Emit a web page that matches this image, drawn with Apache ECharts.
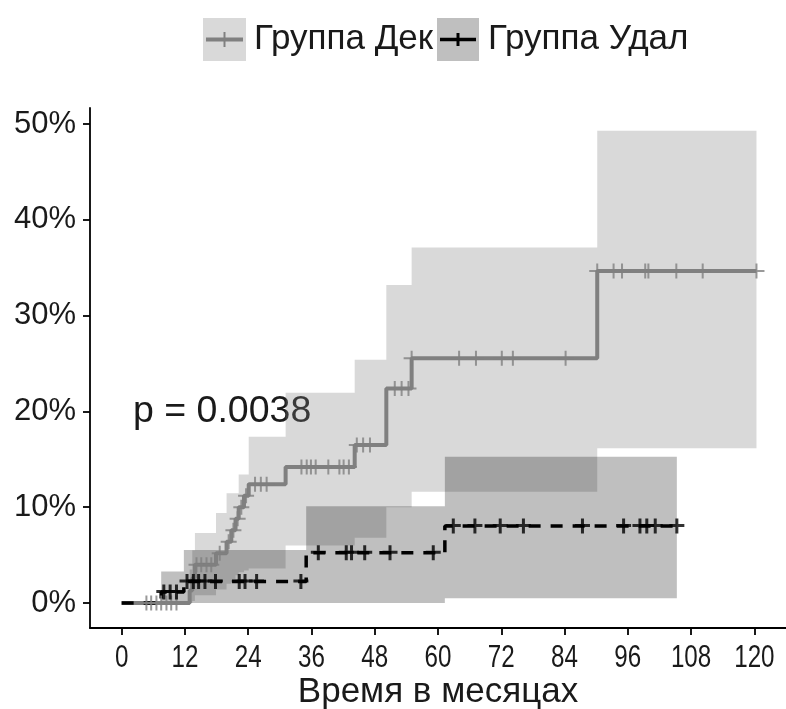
<!DOCTYPE html>
<html>
<head>
<meta charset="utf-8">
<script src="https://cdn.jsdelivr.net/npm/echarts@6/dist/echarts.min.js"></script>
<style>
  html, body { margin: 0; padding: 0; background: #ffffff; }
  #chart { width: 786px; height: 709px; }
</style>
</head>
<body>
<div id="chart"></div>
<script>
// ---- Group "Дек": cumulative incidence step function with confidence band ----
const dekTimes  = [0, 12.9, 13.4, 13.9, 17.9, 19.9, 20.8, 21.6, 22.2, 23.2, 24.1, 31.1, 44.2, 50.2, 55.0, 90.2];
const dekLevels = [0, 0.013, 0.026, 0.040, 0.052, 0.064, 0.076, 0.088, 0.100, 0.112, 0.124, 0.142, 0.165, 0.224, 0.2555, 0.3466];
const dekLower  = [0, 0, 0.002, 0.008, 0.014, 0.020, 0.025, 0.029, 0.032, 0.034, 0.036, 0.060, 0.068, 0.100, 0.116, 0.1615];
const dekUpper  = [0, 0.035, 0.055, 0.073, 0.094, 0.1145, 0.1145, 0.1145, 0.134, 0.134, 0.1736, 0.2195, 0.254, 0.332, 0.371, 0.493];
const dekEnd = 120.4;
const dekCensored = [4.7, 5.6, 6.6, 7.5, 8.5, 9.4, 10.4, 14.2, 15.1, 16.1, 17.0, 18.6, 20.3, 21.2, 22.0, 22.7, 23.6,
  25.3, 26.4, 27.5, 34.1, 35.1, 35.9, 36.8, 39.2, 41.3, 42.1, 43.1, 44.6, 45.8, 47.1, 51.8, 53.1, 54.4,
  55.0, 64.0, 67.2, 72.1, 74.2, 84.2, 90.2, 93.3, 94.9, 99.3, 99.9, 105.2, 110.2, 120.4];

// ---- Group "Удал" ----
const udalTimes  = [0, 7.5, 11.8, 35.0, 61.3];
const udalLevels = [0, 0.0115, 0.0225, 0.0525, 0.0804];
const udalLower  = [0, 0, 0, 0, 0.0049];
const udalUpper  = [0, 0.033, 0.0553, 0.101, 0.1527];
const udalEnd = 105.3;
const udalCensored = [8.0, 9.2, 10.4, 12.4, 13.6, 14.6, 15.8, 17.8, 22.3, 23.4, 25.6, 34.0,
  37.3, 42.6, 43.6, 46.1, 50.9, 59.1, 62.9, 67.0, 71.8, 76.2, 87.4, 95.2, 98.3, 99.6, 101.2, 105.3];

// ---- Axis ticks ----
const xTicks = [0, 12, 24, 36, 48, 60, 72, 84, 96, 108, 120];
const yTicks = [0, 0.1, 0.2, 0.3, 0.4, 0.5];

const seriesNames = ['Группа Дек', 'Группа Удал'];
const pText = 'p = 0.0038';
const xTitle = 'Время в месяцах';

const FONT = "'Liberation Sans', Arial, sans-serif";
const TEXT = '#1a1a1a';

// value of a right-continuous step function at time t
function stepAt(times, levels, t) {
  let v = levels[0];
  for (let i = 0; i < times.length; i++) if (times[i] <= t) v = levels[i];
  return v;
}

function stepLine(times, levels, end) {
  const pts = times.map((t, i) => [t, levels[i]]);
  pts.push([end, levels[levels.length - 1]]);
  return pts;
}

// confidence band as a single stepped polygon, projected through the grid's scales
function bandSeries(times, lower, upper, end, fill) {
  return {
    type: 'custom',
    coordinateSystem: 'cartesian2d',
    silent: true,
    z: 1,
    data: [[times[1], upper[1]]],
    renderItem: function (params, api) {
      const top = [], bottom = [];
      for (let i = 1; i < times.length; i++) {
        const t1 = i < times.length - 1 ? times[i + 1] : end;
        top.push(api.coord([times[i], upper[i]]), api.coord([t1, upper[i]]));
        bottom.push(api.coord([times[i], lower[i]]), api.coord([t1, lower[i]]));
      }
      return {
        type: 'polygon',
        shape: { points: top.concat(bottom.reverse()) },
        style: { fill: fill, stroke: null }
      };
    }
  };
}

const plusThin  = 'path://M0,6.5H16V8.5H0Z M7,0H9V15H7Z';
const plusThick = 'path://M0,5.5H15V8.5H0Z M6,0H9V15H6Z';

const chart = echarts.init(document.getElementById('chart'), null, { renderer: 'canvas' });

const staticGraphics = [
  // legend keys
  { id: 'k1', type: 'rect', shape: { x: 203, y: 18, width: 43, height: 43 }, style: { fill: '#d9d9d9' } },
  { id: 'k1l', type: 'line', shape: { x1: 206, y1: 39.5, x2: 243, y2: 39.5 }, style: { stroke: '#808080', lineWidth: 4 } },
  { id: 'k1p', type: 'line', shape: { x1: 224.5, y1: 32, x2: 224.5, y2: 47 }, style: { stroke: '#808080', lineWidth: 2 } },
  { id: 'k1t', type: 'text', left: 254, top: 22, style: { text: seriesNames[0], font: '35px ' + FONT, fill: TEXT } },
  { id: 'k2', type: 'rect', shape: { x: 437, y: 18, width: 42, height: 43 }, style: { fill: '#bfbfbf' } },
  { id: 'k2l', type: 'line', shape: { x1: 440, y1: 39.5, x2: 476, y2: 39.5 }, style: { stroke: '#000', lineWidth: 3.5 } },
  { id: 'k2p', type: 'line', shape: { x1: 458, y1: 33, x2: 458, y2: 46 }, style: { stroke: '#000', lineWidth: 3 } },
  { id: 'k2t', type: 'text', left: 488, top: 22, style: { text: seriesNames[1], font: '35px ' + FONT, fill: TEXT } },
  // log-rank p-value
  { id: 'pv', type: 'text', left: 133, top: 393, style: { text: pText, font: '37.5px ' + FONT, fill: TEXT } }
];

chart.setOption({
  animation: false,
  backgroundColor: '#ffffff',
  grid: { left: 90, right: 0, top: 108, bottom: 81, outerBoundsMode: 'none', containLabel: false },
  xAxis: {
    type: 'value',
    min: -6, max: 126,
    splitLine: { show: false },
    axisLine: { show: true, onZero: false, lineStyle: { color: '#000', width: 1.8 } },
    axisTick: { show: true, length: 7, lineStyle: { color: '#000', width: 1.8 }, customValues: xTicks },
    axisLabel: { show: false },
    name: xTitle, nameLocation: 'middle', nameGap: 47,
    nameTextStyle: { fontFamily: FONT, fontSize: 35, color: TEXT }
  },
  yAxis: {
    type: 'value',
    min: -0.0261, max: 0.5167,
    splitLine: { show: false },
    axisLine: { show: true, onZero: false, lineStyle: { color: '#000', width: 1.8 } },
    axisTick: { show: true, length: 7, lineStyle: { color: '#000', width: 1.8 }, customValues: yTicks },
    axisLabel: {
      customValues: yTicks, margin: 14,
      formatter: v => Math.round(v * 100) + '%',
      fontFamily: FONT, fontSize: 31, color: TEXT
    }
  },
  series: [
    bandSeries(dekTimes, dekLower, dekUpper, dekEnd, 'rgba(128,128,128,0.3)'),
    bandSeries(udalTimes, udalLower, udalUpper, udalEnd, 'rgba(0,0,0,0.25)'),
    {
      name: seriesNames[0], type: 'line', step: 'end', z: 3,
      data: stepLine(dekTimes, dekLevels, dekEnd),
      showSymbol: false, symbol: 'none',
      lineStyle: { color: '#808080', width: 4 }
    },
    {
      name: seriesNames[1], type: 'line', step: 'end', z: 3,
      data: stepLine(udalTimes, udalLevels, udalEnd),
      showSymbol: false, symbol: 'none',
      lineStyle: { color: '#000000', width: 3.5, type: [12, 10] }
    },
    {
      type: 'scatter', z: 4, silent: true,
      data: dekCensored.map(t => [t, stepAt(dekTimes, dekLevels, t)]),
      symbol: plusThin, symbolSize: [16, 15],
      itemStyle: { color: '#808080' }
    },
    {
      type: 'scatter', z: 4, silent: true,
      data: udalCensored.map(t => [t, stepAt(udalTimes, udalLevels, t)]),
      symbol: plusThick, symbolSize: 15,
      itemStyle: { color: '#000000' }
    }
  ],
  graphic: staticGraphics
});

// x tick labels: narrow-set numerals placed at the axis' own tick positions
const axisBottom = chart.convertToPixel({ gridIndex: 0 }, [0, -0.0261])[1];
const tickLabels = xTicks.map((v, i) => {
  const px = chart.convertToPixel({ xAxisIndex: 0 }, v);
  return {
    id: 'xl' + i, type: 'text', x: px, y: axisBottom + 15, scaleX: 0.78,
    style: { text: String(v), font: '31px ' + FONT, fill: TEXT, align: 'center', verticalAlign: 'top' }
  };
});
chart.setOption({ graphic: staticGraphics.concat(tickLabels) });
</script>
</body>
</html>
